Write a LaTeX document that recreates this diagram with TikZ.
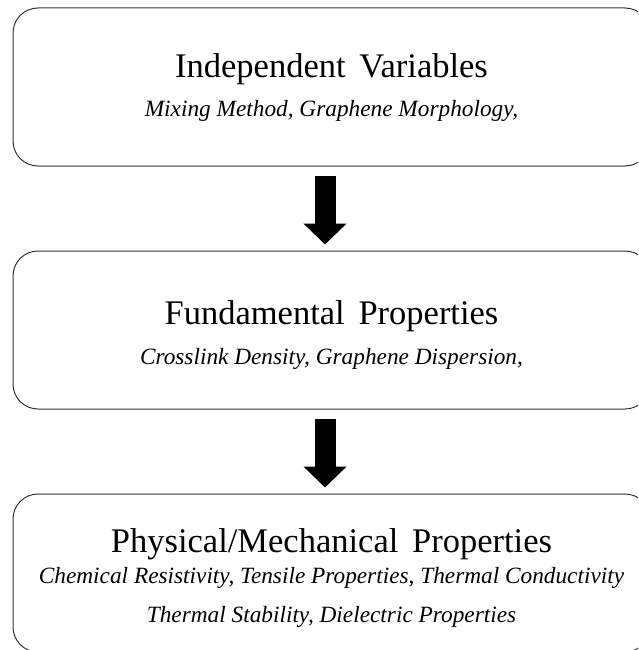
\documentclass[tikz,border=0pt]{standalone}
\usepackage{fontspec}
\setmainfont{Liberation Serif}
\usepackage{xcolor}
\usetikzlibrary{arrows.meta}

\begin{document}
\begin{tikzpicture}[x=1pt, y=-1pt, node distance=243pt,
    stage/.style={draw=black!80, line width=1pt, rectangle, rounded corners=25pt,
        minimum width=637pt, minimum height=158pt, inner sep=0pt},
    heading/.style={anchor=base, inner sep=0pt, font={\fontsize{34.5}{40}\selectfont\spaceskip 0.4em}},
    factors/.style={anchor=base, inner sep=0pt, font=\fontsize{23.3}{27}\selectfont\itshape},
    flow/.style={line width=21pt, black, -{Triangle[width=42pt, length=21pt]},
        shorten <=9pt, shorten >=6pt}]
    \useasboundingbox (0,0) rectangle (638,650);
    \clip (0,0) rectangle (638,650);

    \node [stage] (indep) at (331.5,87) {};
    \node [stage, below of=indep] (fund) {};
    \node [stage, below of=fund] (phys) {};

    \node [heading] (indephead) at ([yshift=9pt]indep.center) {Independent Variables};
    \node [factors] (indepvars) at ([yshift=-30pt]indep.center) {Mixing Method, Graphene Morphology,};

    \node [heading] (fundhead) at ([yshift=6pt]fund.center) {Fundamental Properties};
    \node [factors] (fundvars) at ([yshift=-34pt]fund.center) {Crosslink Density, Graphene Dispersion,};

    \node [heading] (physhead) at ([yshift=21pt]phys.center) {Physical/Mechanical Properties};
    \node [factors] (physvars) at ([yshift=-10pt]phys.center) {Chemical Resistivity, Tensile Properties, Thermal Conductivity};
    \node [factors] (physmore) at ([yshift=-49pt]phys.center) {Thermal Stability, Dielectric Properties};

    \draw [flow] ([xshift=-6.5pt]indep.south) -- ([xshift=-6.5pt]fund.north);
    \draw [flow] ([xshift=-6.5pt]fund.south) -- ([xshift=-6.5pt]phys.north);
\end{tikzpicture}
\end{document}
